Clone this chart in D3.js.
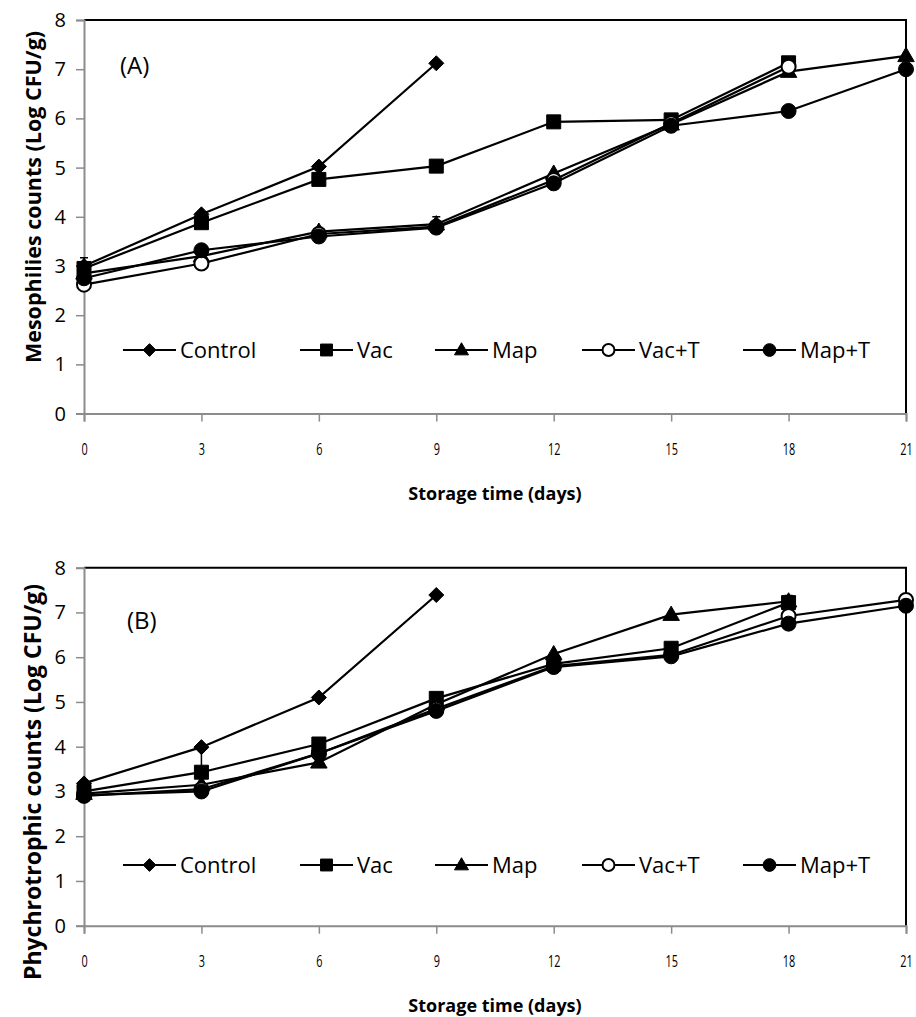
<!DOCTYPE html>
<html>
<head>
<meta charset="utf-8">
<script src="https://cdn.jsdelivr.net/npm/d3@7"></script>
<style>
  html, body { margin: 0; padding: 0; background: #fff; }
  svg { display: block; }
  .tick-y { font-family: "Open Sans", sans-serif; font-size: 20px; fill: #000; }
  .tick-x { font-family: "Open Sans", sans-serif; font-size: 16px; fill: #000; }
  .ax-title { font-family: "Open Sans", sans-serif; font-size: 18px; font-weight: bold; fill: #000; }
  .legend-text { font-family: "Open Sans", sans-serif; font-size: 22px; fill: #000; }
  .panel-label { font-family: "Open Sans", sans-serif; font-size: 24px; fill: #000; }
</style>
</head>
<body>
<svg id="chart" width="916" height="1017"></svg>
<script>
// Storage days on the x axis
const days = [0, 3, 6, 9, 12, 15, 18, 21];
const xTicks = [0, 3, 6, 9, 12, 15, 18, 21];
const yTicks = [0, 1, 2, 3, 4, 5, 6, 7, 8];
const seriesNames = ["Control", "Vac", "Map", "Vac+T", "Map+T"];

// (A) mesophilic counts, log CFU/g
const mesoControl = [3.00, 4.05, 5.02, 7.12, null, null, null, null];
const mesoVac     = [2.95, 3.88, 4.76, 5.03, 5.93, 5.97, 7.13, null];
const mesoMap     = [2.85, 3.20, 3.70, 3.85, 4.88, 5.88, 6.95, 7.27];
const mesoVacT    = [2.62, 3.05, 3.65, 3.80, 4.75, 5.90, 7.05, null];
const mesoMapT    = [2.75, 3.32, 3.60, 3.78, 4.68, 5.85, 6.15, 7.00];
// error bars: [series, day, sd]
const mesoErr = [["Vac", 0, 0.22], ["Map", 9, 0.15]];

// (B) psychrotrophic counts, log CFU/g
const psyControl = [3.18, 3.99, 5.10, 7.39, null, null, null, null];
const psyVac     = [3.00, 3.43, 4.06, 5.08, 5.85, 6.20, 7.22, null];
const psyMap     = [2.95, 3.15, 3.65, 4.95, 6.07, 6.95, 7.25, null];
const psyVacT    = [2.90, 3.05, 3.85, 4.85, 5.80, 6.05, 6.92, 7.28];
const psyMapT    = [2.92, 3.00, 3.85, 4.80, 5.78, 6.02, 6.75, 7.15];
const psyErr = [["Vac", 3, 0.55], ["Vac", 18, 0.16]];

// custom marker shapes; size = half extent in px
const shapes = {
  "Control": { draw(ctx, r) { ctx.moveTo(0, -r); ctx.lineTo(r, 0); ctx.lineTo(0, r); ctx.lineTo(-r, 0); ctx.closePath(); } },
  "Vac":     { draw(ctx, r) { ctx.rect(-r, -r, 2 * r, 2 * r); } },
  "Map":     { draw(ctx, r) { const h = r * 1.9; ctx.moveTo(0, -h * 0.6); ctx.lineTo(r * 1.1, h * 0.4); ctx.lineTo(-r * 1.1, h * 0.4); ctx.closePath(); } },
  "Vac+T":   { draw(ctx, r) { ctx.moveTo(r, 0); ctx.arc(0, 0, r, 0, 2 * Math.PI); } },
  "Map+T":   { draw(ctx, r) { ctx.moveTo(r, 0); ctx.arc(0, 0, r, 0, 2 * Math.PI); } }
};
const markerSize = { "Control": 7.5, "Vac": 7, "Map": 7.5, "Vac+T": 7, "Map+T": 7.5 };
const openMarker = { "Vac+T": true };

const svg = d3.select("#chart");
const x = d3.scaleLinear().domain([0, 21]).range([84, 906]);

function drawPanel(cfg) {
  const y = d3.scaleLinear().domain([0, 8]).range([cfg.bottom, cfg.top]);
  const g = svg.append("g");

  // frame: top and right edges black
  g.append("path")
    .attr("d", `M${x(0)},${y(8)}H${x(21)}V${y(0)}`)
    .attr("fill", "none").attr("stroke", "#000").attr("stroke-width", 2);

  // y axis
  const yAxis = g.append("g").attr("transform", `translate(${x(0)},0)`)
    .call(d3.axisLeft(y).tickValues(yTicks).tickSize(8).tickPadding(10).tickFormat(d3.format("d")));
  yAxis.select(".domain").attr("stroke", "#8c8c8c").attr("stroke-width", 2);
  yAxis.selectAll(".tick line").attr("stroke", "#8c8c8c").attr("stroke-width", 1.5);
  yAxis.selectAll(".tick text").attr("class", "tick-y").attr("font-family", null).attr("font-size", null);

  // x axis, narrow tick labels
  const xAxis = g.append("g").attr("transform", `translate(0,${y(0)})`)
    .call(d3.axisBottom(x).tickValues(xTicks).tickSize(8).tickPadding(22).tickFormat(d3.format("d")));
  xAxis.select(".domain").attr("stroke", "#8c8c8c").attr("stroke-width", 2);
  xAxis.selectAll(".tick line").attr("stroke", "#8c8c8c").attr("stroke-width", 1.5);
  xAxis.selectAll(".tick text").attr("class", "tick-x").attr("font-family", null).attr("font-size", null)
    .attr("transform", "scale(0.68,1)");

  // axis titles
  g.append("text").attr("class", "ax-title")
    .attr("x", 495).attr("y", y(0) + 86).attr("text-anchor", "middle")
    .text("Storage time (days)");
  g.append("text").attr("class", "ax-title")
    .style("font-size", cfg.yTitleSize + "px")
    .attr("transform", `translate(33,${cfg.yTitleY}) rotate(-90)`)
    .attr("text-anchor", "middle").attr("dy", "0.35em")
    .text(cfg.yTitle);

  // panel label
  g.append("text").attr("class", "panel-label")
    .attr("x", cfg.labelX).attr("y", cfg.labelY).attr("dy", "0.35em")
    .text(cfg.label);

  const line = d3.line().defined(d => d.v !== null).x(d => x(d.day)).y(d => y(d.v));

  cfg.series.forEach((vals, i) => {
    const name = seriesNames[i];
    const pts = days.map((day, j) => ({ day, v: vals[j] }));
    const sg = g.append("g");
    sg.append("path").datum(pts).attr("d", line)
      .attr("fill", "none").attr("stroke", "#000").attr("stroke-width", 2.2);
    // error bars for this series
    cfg.errors.filter(e => e[0] === name).forEach(e => {
      const v = vals[days.indexOf(e[1])];
      const cx = x(e[1]);
      sg.append("path")
        .attr("d", `M${cx},${y(v - e[2])}V${y(v + e[2])}M${cx - 4},${y(v + e[2])}H${cx + 4}M${cx - 4},${y(v - e[2])}H${cx + 4}`)
        .attr("stroke", "#000").attr("stroke-width", 1.5).attr("fill", "none");
    });
    sg.selectAll("path.mk").data(pts.filter(d => d.v !== null)).join("path")
      .attr("class", "mk")
      .attr("transform", d => `translate(${x(d.day)},${y(d.v)})`)
      .attr("d", d3.symbol(shapes[name], markerSize[name]))
      .attr("fill", openMarker[name] ? "#fff" : "#000")
      .attr("stroke", "#000").attr("stroke-width", openMarker[name] ? 2 : 1);
  });

  // legend
  const legX = [123, 300, 435, 582, 743];
  const legY = cfg.legendY;
  seriesNames.forEach((name, i) => {
    const lg = g.append("g").attr("transform", `translate(${legX[i]},${legY})`);
    lg.append("line").attr("x1", 0).attr("x2", 53).attr("y1", 0).attr("y2", 0)
      .attr("stroke", "#000").attr("stroke-width", 2.2);
    lg.append("path").attr("transform", "translate(26.5,0)")
      .attr("d", d3.symbol(shapes[name], markerSize[name] * 0.85))
      .attr("fill", openMarker[name] ? "#fff" : "#000")
      .attr("stroke", "#000").attr("stroke-width", openMarker[name] ? 2 : 1);
    lg.append("text").attr("class", "legend-text")
      .attr("x", 57).attr("y", 0).attr("dy", "0.35em").text(name);
  });
}

drawPanel({
  top: 20, bottom: 413.6,
  yTitle: "Mesophilies counts (Log CFU/g)", yTitleSize: 21.5, yTitleY: 197,
  label: "(A)", labelX: 120, labelY: 66,
  legendY: 350,
  series: [mesoControl, mesoVac, mesoMap, mesoVacT, mesoMapT],
  errors: mesoErr
});

drawPanel({
  top: 567.7, bottom: 925.7,
  yTitle: "Phychrotrophic counts (Log CFU/g)", yTitleSize: 23, yTitleY: 782,
  label: "(B)", labelX: 127, labelY: 621,
  legendY: 865,
  series: [psyControl, psyVac, psyMap, psyVacT, psyMapT],
  errors: psyErr
});
</script>
</body>
</html>
